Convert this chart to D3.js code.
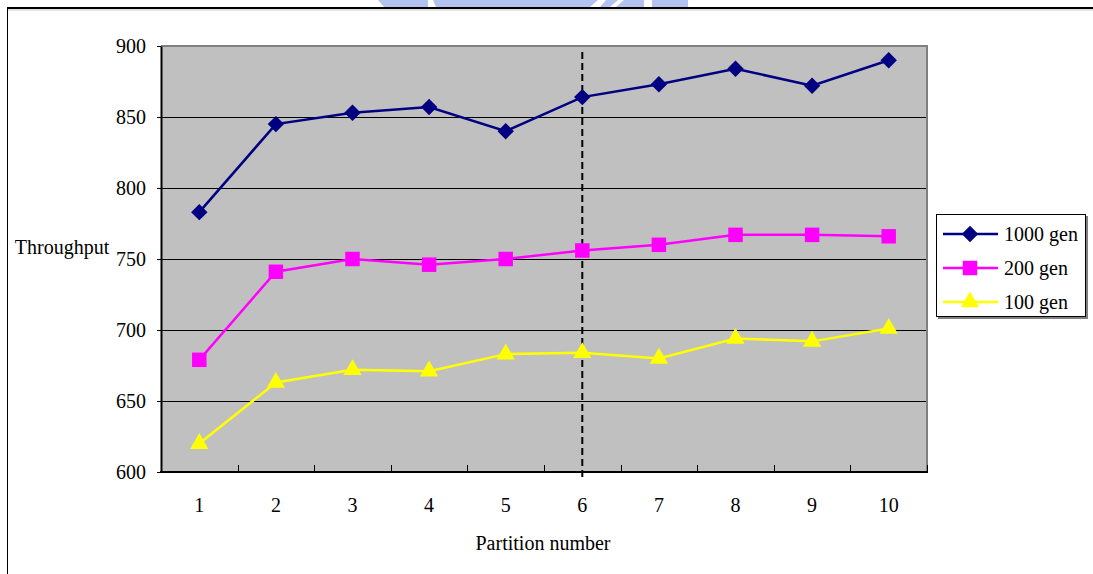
<!DOCTYPE html>
<html>
<head>
<meta charset="utf-8">
<script src="https://cdn.jsdelivr.net/npm/d3@7"></script>
<style>
  html, body { margin: 0; padding: 0; background: #fff; }
  svg { display: block; }
  svg text { font-family: "Liberation Serif", "Times New Roman", Times, serif !important; fill: #000; }
</style>
</head>
<body>
<script>
// Throughput by partition number for three generation counts
const partitions = ["1", "2", "3", "4", "5", "6", "7", "8", "9", "10"];
const gen1000 = [783, 845, 853, 857, 840, 864, 873, 884, 872, 890];
const gen200  = [679, 741, 750, 746, 750, 756, 760, 767, 767, 766];
const gen100  = [620, 663, 672, 671, 683, 684, 680, 694, 692, 701];
const seriesNames = ["1000 gen", "200 gen", "100 gen"];
const yTicks = [600, 650, 700, 750, 800, 850, 900];
const markedPartition = "6";

const W = 1093, H = 574;
const plot = { left: 161, right: 927, top: 46, bottom: 472 };
const FONT = "Liberation Serif, Times New Roman, serif";

const svg = d3.select("body").append("svg")
  .attr("width", W).attr("height", H)
  .attr("font-family", FONT);

// Faint emblem sitting above the page frame
const emblem = svg.append("g").attr("fill", "#b3c2ef");
emblem.append("path").attr("d", "M378,0 L428,0 L428,7 L384,7 Z");
emblem.append("path").attr("d", "M433,0 L598,0 L590,7 L436,7 Z");
emblem.append("path").attr("d", "M606,0 L618,0 L610,7 L600,7 Z");
emblem.append("path").attr("d", "M624,0 L644,0 L644,7 L616,7 Z");
emblem.append("path").attr("d", "M652,0 L688,0 L688,7 L652,7 Z");

// Page frame
svg.append("line").attr("x1", 7).attr("x2", W).attr("y1", 8).attr("y2", 8)
  .attr("stroke", "#000").attr("stroke-width", 2);
svg.append("line").attr("x1", 8).attr("x2", W).attr("y1", 10).attr("y2", 10)
  .attr("stroke", "#c8c8c8").attr("stroke-width", 1);
svg.append("line").attr("x1", 7.5).attr("x2", 7.5).attr("y1", 8).attr("y2", H)
  .attr("stroke", "#000").attr("stroke-width", 1);

const x = d3.scaleBand().domain(partitions).range([plot.left, plot.right]).padding(0);
const y = d3.scaleLinear().domain([600, 900]).range([plot.bottom, plot.top]);
const cx = d => x(d) + x.bandwidth() / 2;
const crisp = v => Math.round(v) + 0.5;

// Plot background
svg.append("rect")
  .attr("x", plot.left).attr("y", plot.top)
  .attr("width", plot.right - plot.left).attr("height", plot.bottom - plot.top)
  .attr("fill", "#c0c0c0");

// Horizontal gridlines
svg.append("g").selectAll("line")
  .data(yTicks.filter(v => v > 600 && v < 900))
  .join("line")
  .attr("x1", plot.left).attr("x2", plot.right)
  .attr("y1", d => crisp(y(d))).attr("y2", d => crisp(y(d)))
  .attr("stroke", "#000").attr("stroke-width", 1);

// Gray frame on top and right of the plot
svg.append("path")
  .attr("d", `M${plot.left},${plot.top} H${plot.right} V${plot.bottom}`)
  .attr("fill", "none").attr("stroke", "#808080").attr("stroke-width", 2);

// Y axis
const yAxis = svg.append("g")
  .attr("transform", `translate(${plot.left},0)`)
  .call(d3.axisLeft(y).tickValues(yTicks).tickSize(4).tickPadding(11).tickSizeOuter(0));
yAxis.attr("font-family", FONT).attr("font-size", 20);
yAxis.select(".domain").attr("stroke", "#000").attr("stroke-width", 2);
yAxis.selectAll(".tick line").attr("stroke", "#000");
yAxis.selectAll("text").attr("font-size", 20);

// X axis: labels centred in each band, ticks on band boundaries pointing up
const xAxis = svg.append("g")
  .attr("transform", `translate(0,${plot.bottom})`)
  .call(d3.axisBottom(x).tickSize(0).tickPadding(26).tickSizeOuter(0));
xAxis.attr("font-family", FONT).attr("font-size", 20);
xAxis.select(".domain").remove();
xAxis.selectAll("text").attr("font-size", 20);

const boundaries = partitions.map(p => x(p)).concat([plot.right]).slice(1);
svg.append("g").selectAll("line")
  .data(boundaries)
  .join("line")
  .attr("x1", d => crisp(d)).attr("x2", d => crisp(d))
  .attr("y1", plot.bottom).attr("y2", plot.bottom - 7)
  .attr("stroke", "#000").attr("stroke-width", 1);
svg.append("line")
  .attr("x1", plot.left - 1).attr("x2", plot.right + 1)
  .attr("y1", plot.bottom).attr("y2", plot.bottom)
  .attr("stroke", "#000").attr("stroke-width", 2);

// Dashed marker at the chosen partition
svg.append("line")
  .attr("x1", cx(markedPartition)).attr("x2", cx(markedPartition))
  .attr("y1", plot.top + 6).attr("y2", plot.bottom + 5)
  .attr("stroke", "#000").attr("stroke-width", 2)
  .attr("stroke-dasharray", "7,4");

// Axis titles
svg.append("text").attr("x", 62).attr("y", 247)
  .attr("text-anchor", "middle").attr("dominant-baseline", "central")
  .attr("font-size", 20).text("Throughput");
svg.append("text").attr("x", 543).attr("y", 543)
  .attr("text-anchor", "middle").attr("dominant-baseline", "central")
  .attr("font-size", 20).text("Partition number");

// Series (diamonds are squares turned 45 degrees)
const series = [
  { name: seriesNames[0], values: gen1000, color: "#000080", shape: d3.symbolSquare,   size: 135, rot: 45 },
  { name: seriesNames[1], values: gen200,  color: "#ff00ff", shape: d3.symbolSquare,   size: 210, rot: 0 },
  { name: seriesNames[2], values: gen100,  color: "#ffff00", shape: d3.symbolTriangle, size: 145, rot: 0 }
];

const line = d3.line().x(d => cx(d.p)).y(d => y(d.v));

series.forEach(s => {
  const pts = partitions.map((p, i) => ({ p, v: s.values[i] }));
  const g = svg.append("g");
  g.append("path").datum(pts)
    .attr("d", line)
    .attr("fill", "none").attr("stroke", s.color).attr("stroke-width", 2.5);
  g.selectAll("path.pt").data(pts).join("path")
    .attr("class", "pt")
    .attr("d", d3.symbol().type(s.shape).size(s.size))
    .attr("transform", d => `translate(${cx(d.p)},${y(d.v)}) rotate(${s.rot})`)
    .attr("fill", s.color);
});

// Legend
const lg = svg.append("g").attr("transform", "translate(936,214)");
lg.append("rect").attr("x", 2).attr("y", 2).attr("width", 150).attr("height", 103)
  .attr("fill", "#808080");
lg.append("rect").attr("x", 0.5).attr("y", 0.5).attr("width", 149).attr("height", 102)
  .attr("fill", "#fff").attr("stroke", "#000").attr("stroke-width", 1);
series.forEach((s, i) => {
  const ly = 20 + i * 34;
  lg.append("line").attr("x1", 7).attr("x2", 62).attr("y1", ly).attr("y2", ly)
    .attr("stroke", s.color).attr("stroke-width", 2.5);
  lg.append("path")
    .attr("d", d3.symbol().type(s.shape).size(s.size)())
    .attr("transform", `translate(34,${ly}) rotate(${s.rot})`)
    .attr("fill", s.color);
  lg.append("text").attr("x", 68).attr("y", ly)
    .attr("dominant-baseline", "central")
    .attr("font-size", 20).text(s.name);
});
</script>
</body>
</html>
